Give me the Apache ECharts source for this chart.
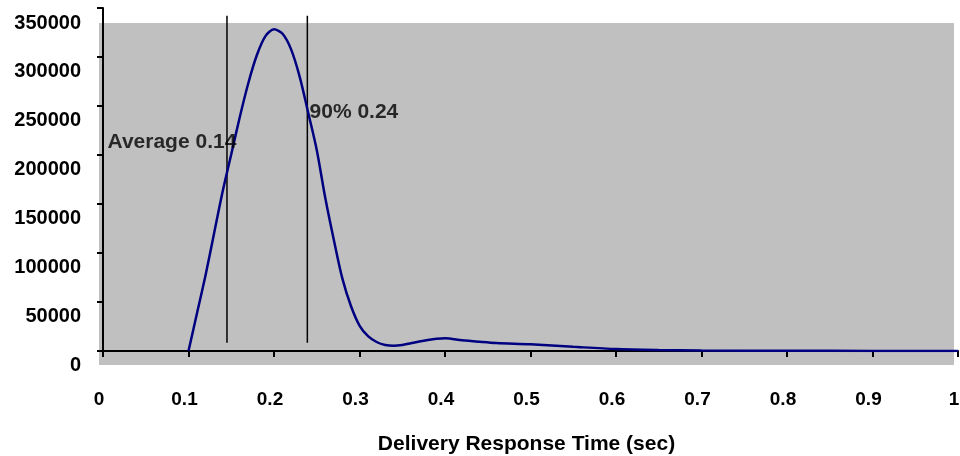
<!DOCTYPE html>
<html>
<head>
<meta charset="utf-8">
<script src="https://cdn.jsdelivr.net/npm/echarts@6/dist/echarts.min.js"></script>
<style>
html,body{margin:0;padding:0;background:#fff;}
#chart{width:960px;height:456px;}
</style>
</head>
<body>
<div id="chart"></div>
<script>
// Response-time distribution: [seconds, count]
var curveX = [0.10, 0.11, 0.12, 0.13, 0.14, 0.15, 0.16, 0.17, 0.18, 0.19, 0.20, 0.21, 0.22, 0.23, 0.24, 0.25, 0.26, 0.27, 0.28, 0.29, 0.30, 0.31, 0.32, 0.33, 0.34, 0.35, 0.36, 0.37, 0.38, 0.39, 0.40, 0.42, 0.44, 0.46, 0.50, 0.55, 0.60, 0.65, 0.70, 0.80, 0.90, 1.00];
var curveY = [0, 38800, 77500, 120400, 163000, 200700, 238800, 273500, 302000, 321300, 328200, 323700, 307800, 280000, 243100, 205100, 156100, 113300, 73800, 45900, 26000, 15200, 9200, 6100, 5300, 6100, 7900, 9700, 11200, 12400, 13000, 11000, 9500, 8200, 6800, 4300, 2000, 1000, 500, 200, 100, 0];

// Marker lines (x position, bottom and top values)
var markerNames = ['Average 0.14', '90% 0.24'];
var markerX = [0.145, 0.239];
var markerSpan = [8500, 342000];
// Annotation anchors [x, y] in data units
var annotX = [0.0047, 0.241];
var annotY = [213000, 243900];

// Axis settings
var yMax = 350000, yStep = 50000;
var xTitle = 'Delivery Response Time (sec)';

var FONT = 'Arial, "Liberation Sans", sans-serif';
var chart = echarts.init(document.getElementById('chart'));

var curve = curveX.map(function (x, i) { return [x, curveY[i]]; });

var series = [
  {
    type: 'line', xAxisIndex: 1, yAxisIndex: 1, data: curve,
    smooth: 0.3, symbol: 'none',
    lineStyle: { color: '#000080', width: 2.5 }, z: 5, silent: true
  }
];
markerX.forEach(function (x) {
  series.push({
    type: 'line', xAxisIndex: 1, yAxisIndex: 1,
    data: [[x, markerSpan[0]], [x, markerSpan[1]]],
    symbol: 'none', lineStyle: { color: '#000', width: 1.5 }, z: 4, silent: true
  });
});
series.push({
  type: 'scatter', xAxisIndex: 1, yAxisIndex: 1,
  data: annotX.map(function (x, i) { return { value: [x, annotY[i]], name: markerNames[i] }; }),
  symbolSize: 1, itemStyle: { color: 'transparent' }, z: 6, silent: true,
  label: {
    show: true, position: 'right', distance: 0,
    formatter: function (p) { return p.name; },
    fontFamily: FONT, fontWeight: 'bold', fontSize: 21, color: '#000', textBorderWidth: 0
  }
});

chart.setOption({
  animation: false,
  backgroundColor: '#fff',
  grid: [
    { left: 99, top: 23, width: 855, height: 342, show: true, backgroundColor: '#c0c0c0', borderWidth: 0,
      containLabel: false, outerBoundsMode: 'none' },
    { left: 103, top: 8, width: 855, height: 343, containLabel: false, outerBoundsMode: 'none' }
  ],
  xAxis: [
    {
      gridIndex: 0, type: 'value', min: 0, max: 1, interval: 0.1,
      axisLine: { show: false }, axisTick: { show: false }, splitLine: { show: false },
      axisLabel: { margin: 25, fontFamily: FONT, fontWeight: 'bold', fontSize: 19, color: '#000',
        formatter: function (v) { return String(Math.round(v * 10) / 10); } },
      name: xTitle, nameLocation: 'middle', nameGap: 69,
      nameTextStyle: { fontFamily: FONT, fontWeight: 'bold', fontSize: 21, color: '#000' }
    },
    {
      gridIndex: 1, type: 'value', min: 0, max: 1, interval: 0.1,
      axisLine: { show: true, onZero: false, lineStyle: { color: '#000', width: 2 } },
      axisTick: { show: true, length: 6, lineStyle: { color: '#000', width: 2 } },
      axisLabel: { show: false }, splitLine: { show: false }
    }
  ],
  yAxis: [
    {
      gridIndex: 0, type: 'value', min: 0, max: yMax, interval: yStep,
      axisLine: { show: false }, axisTick: { show: false }, splitLine: { show: false },
      axisLabel: { margin: 18, fontFamily: FONT, fontWeight: 'bold', fontSize: 20, color: '#000',
        formatter: function (v) { return String(v); } }
    },
    {
      gridIndex: 1, type: 'value', min: 0, max: yMax, interval: yStep,
      axisLine: { show: true, onZero: false, lineStyle: { color: '#000', width: 2 } },
      axisTick: { show: true, length: 6, lineStyle: { color: '#000', width: 2 } },
      axisLabel: { show: false }, splitLine: { show: false }
    }
  ],
  series: series
});
</script>
</body>
</html>
